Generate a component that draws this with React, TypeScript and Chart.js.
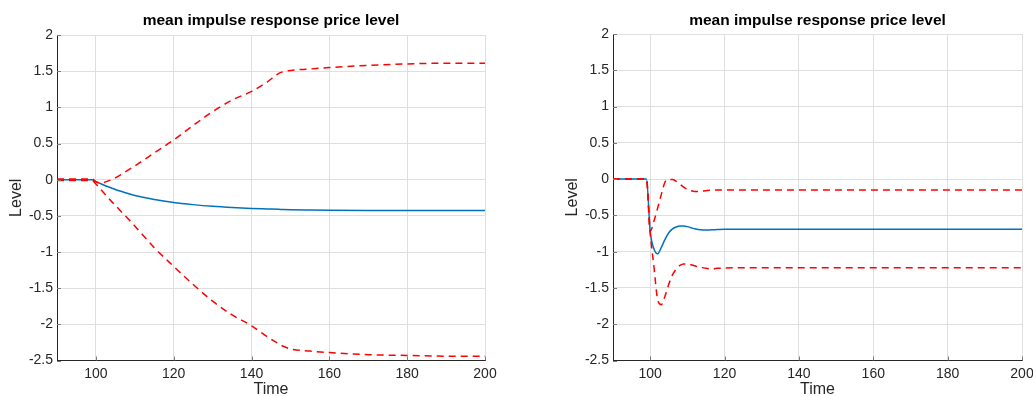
import React, { useEffect, useRef } from "react";
import { Chart, registerables } from "chart.js";

Chart.register(...registerables);

// ---------- data ----------
const titleText = "mean impulse response price level";
const xLabel = "Time";
const yLabel = "Level";
const xTicks = [100, 120, 140, 160, 180, 200];
const yTicks = [2, 1.5, 1, 0.5, 0, -0.5, -1, -1.5, -2, -2.5];

const leftTime = [90, 99, 100, 101, 102, 103, 104, 105, 107, 110, 115, 120, 125, 130, 135, 140, 144, 147, 148, 150, 155, 160, 170, 180, 190, 200];
const leftMean = [0, 0, -0.025, -0.05, -0.073, -0.095, -0.115, -0.135, -0.17, -0.22, -0.275, -0.316, -0.345, -0.368, -0.385, -0.398, -0.405, -0.41, -0.412, -0.415, -0.419, -0.422, -0.425, -0.425, -0.425, -0.425];
const leftUpper = [0.01, 0.01, -0.03, -0.045, -0.04, -0.02, 0.0, 0.025, 0.09, 0.19, 0.37, 0.55, 0.75, 0.94, 1.1, 1.22, 1.35, 1.47, 1.49, 1.51, 1.53, 1.55, 1.58, 1.6, 1.61, 1.61];
const leftLower = [-0.01, -0.01, -0.06, -0.12, -0.18, -0.24, -0.3, -0.355, -0.47, -0.64, -0.94, -1.2, -1.45, -1.68, -1.87, -2.02, -2.17, -2.27, -2.3, -2.34, -2.37, -2.39, -2.42, -2.43, -2.44, -2.44];

const rightTime = [90, 99, 100, 101, 102, 103, 104, 105, 106, 107, 108, 109, 110, 111, 112, 113, 114, 115, 116, 117, 118, 120, 130, 150, 200];
const rightMean = [0, 0, -0.72, -0.96, -1.03, -0.94, -0.83, -0.74, -0.685, -0.66, -0.645, -0.645, -0.655, -0.67, -0.685, -0.695, -0.7, -0.703, -0.7, -0.698, -0.695, -0.69, -0.69, -0.69, -0.69];
const rightUpper = [0, 0, -0.72, -0.58, -0.4, -0.21, -0.04, -0.005, -0.005, -0.03, -0.07, -0.11, -0.14, -0.16, -0.17, -0.17, -0.165, -0.16, -0.155, -0.152, -0.15, -0.15, -0.15, -0.15, -0.15];
const rightLower = [0, 0, -0.74, -1.2, -1.66, -1.73, -1.61, -1.45, -1.32, -1.24, -1.19, -1.17, -1.17, -1.18, -1.195, -1.21, -1.22, -1.23, -1.235, -1.235, -1.23, -1.225, -1.22, -1.22, -1.22];

// ---------- styles ----------
const FONT = '"Liberation Sans", Arial, Helvetica, sans-serif';
const TEXT = "#262626";
const GRID = "#dfdfdf";
const BLUE = "#0072BD";
const RED = "#FF0000";

const pts = (t: number[], v: number[]) => t.map((x, i) => ({ x, y: v[i] }));

const panelPlugin = {
  id: "panelDecor",
  afterDraw(chart: any) {
    const { ctx, chartArea } = chart;
    const xs = chart.scales.x;
    const ys = chart.scales.y;
    ctx.save();
    // inward tick marks
    ctx.strokeStyle = "#7a7a7a";
    ctx.lineWidth = 1;
    ctx.beginPath();
    xTicks.forEach((v) => {
      const px = Math.round(xs.getPixelForValue(v)) + 0.5;
      ctx.moveTo(px, chartArea.bottom);
      ctx.lineTo(px, chartArea.bottom - 4);
    });
    yTicks.forEach((v) => {
      const py = Math.round(ys.getPixelForValue(v)) + 0.5;
      ctx.moveTo(chartArea.left, py);
      ctx.lineTo(chartArea.left + 4, py);
    });
    ctx.stroke();
    // title
    ctx.fillStyle = "#000000";
    ctx.font = `bold 15.5px ${FONT}`;
    ctx.textAlign = "center";
    ctx.textBaseline = "middle";
    ctx.fillText(titleText, (chartArea.left + chartArea.right) / 2, 21);
    ctx.restore();
  },
};

function buildChart(
  canvas: HTMLCanvasElement,
  time: number[],
  mean: number[],
  upper: number[],
  lower: number[],
  cfg: { yWidth: number; padRight: number; padTop: number; xHeight: number; yTitlePad: number }
) {
  const red = (data: number[]) => ({
    data: pts(time, data),
    borderColor: RED,
    borderWidth: 1.5,
    borderDash: [7, 5],
    pointRadius: 0,
    fill: false,
    cubicInterpolationMode: "monotone" as const,
  });
  return new Chart(canvas, {
    type: "line",
    data: {
      datasets: [
        red(upper),
        red(lower),
        {
          data: pts(time, mean),
          borderColor: BLUE,
          borderWidth: 1.5,
          pointRadius: 0,
          fill: false,
          cubicInterpolationMode: "monotone" as const,
        },
      ],
    },
    options: {
      animation: false,
      responsive: false,
      devicePixelRatio: 1,
      layout: { padding: { left: 0, right: cfg.padRight, top: cfg.padTop, bottom: 0 } },
      plugins: { legend: { display: false }, tooltip: { enabled: false }, title: { display: false } },
      scales: {
        x: {
          type: "linear",
          min: 90,
          max: 200,
          afterBuildTicks: (s: any) => {
            s.ticks = xTicks.map((value) => ({ value }));
          },
          afterFit: (s: any) => {
            s.height = cfg.xHeight;
          },
          grid: { color: GRID, drawTicks: false, lineWidth: 1 },
          border: { display: true, color: TEXT, width: 1 },
          ticks: {
            color: TEXT,
            font: { family: FONT, size: 14 },
            padding: 5,
            maxRotation: 0,
            autoSkip: false,
            callback: (v: any) => String(v),
          },
          title: {
            display: true,
            text: xLabel,
            color: TEXT,
            font: { family: FONT, size: 16, lineHeight: 1 },
            padding: { top: 0, bottom: -2 },
          },
        },
        y: {
          type: "linear",
          min: -2.5,
          max: 2,
          afterBuildTicks: (s: any) => {
            s.ticks = yTicks.map((value) => ({ value }));
          },
          afterFit: (s: any) => {
            s.width = cfg.yWidth;
          },
          grid: { color: GRID, drawTicks: false, lineWidth: 1 },
          border: { display: true, color: TEXT, width: 1 },
          ticks: {
            color: TEXT,
            font: { family: FONT, size: 14 },
            padding: 4,
            autoSkip: false,
            callback: (v: any) => String(v),
          },
          title: {
            display: true,
            text: yLabel,
            color: TEXT,
            font: { family: FONT, size: 16, lineHeight: 1 },
            padding: { top: cfg.yTitlePad, bottom: 0 },
          },
        },
      },
    },
    plugins: [panelPlugin],
  });
}

export default function App() {
  const leftRef = useRef<HTMLCanvasElement | null>(null);
  const rightRef = useRef<HTMLCanvasElement | null>(null);

  useEffect(() => {
    const c1 = buildChart(leftRef.current!, leftTime, leftMean, leftUpper, leftLower, {
      yWidth: 57,
      padRight: 32,
      padTop: 35,
      xHeight: 35.5,
      yTitlePad: 9,
    });
    const c2 = buildChart(rightRef.current!, rightTime, rightMean, rightUpper, rightLower, {
      yWidth: 96,
      padRight: 35,
      padTop: 34,
      xHeight: 35.5,
      yTitlePad: 47.5,
    });
    return () => {
      c1.destroy();
      c2.destroy();
    };
  }, []);

  return (
    <div
      style={{
        position: "fixed",
        left: 0,
        top: 0,
        width: 1033,
        height: 396,
        overflow: "hidden",
        background: "#ffffff",
      }}
    >
      <canvas ref={leftRef} width={517} height={396} style={{ position: "absolute", left: 0, top: 0, width: 517, height: 396 }} />
      <canvas ref={rightRef} width={540} height={396} style={{ position: "absolute", left: 517, top: 0, width: 540, height: 396 }} />
    </div>
  );
}
